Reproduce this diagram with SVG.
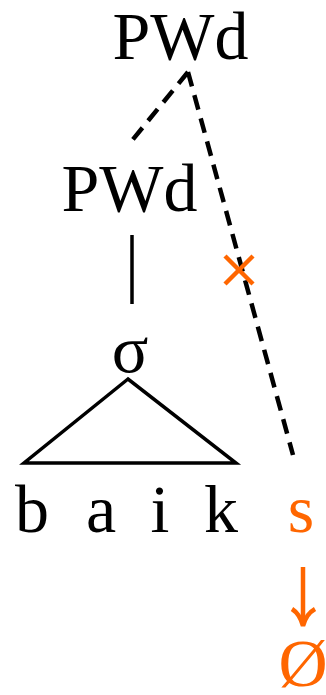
<svg xmlns="http://www.w3.org/2000/svg" width="326" height="695" viewBox="0 0 326 695">
<style>
text{font-family:"Liberation Serif","Times New Roman",serif;font-size:68px;text-anchor:middle}
.k{fill:#000}
.o{fill:#FF6600}
.dash{stroke:#000;stroke-width:4.5;fill:none;stroke-dasharray:15 9}
.solid{stroke:#000;stroke-width:3.5;fill:none}
.orl{stroke:#FF6600;stroke-width:4.5;fill:none;stroke-linecap:butt}
</style>
<rect width="326" height="695" fill="#fff"/>
<g id="connectors">
<path class="dash" d="M188,72 L130,143"/>
<path class="dash" d="M188,72 L293,455"/>
<line class="solid" x1="132" y1="235" x2="132" y2="304"/>
<path class="solid" d="M128,379 L24,463 L236,463 Z" stroke-width="5" stroke-linejoin="miter"/>
<g id="cross">
<line class="orl" x1="225" y1="256" x2="253" y2="284"/>
<line class="orl" x1="253" y1="256" x2="225" y2="284"/>
</g>
<g id="arrow">
<line class="orl" x1="303" y1="567" x2="303" y2="622" stroke-width="2.8"/>
<path d="M292,609 Q300,614 303,626 Q306,614 315,609" class="orl" stroke-width="2.8"/>
</g>
</g>
<g id="pwd-top"><text class="k" x="180.5" y="59">PWd</text></g>
<g id="pwd-mid"><text class="k" x="129.5" y="211">PWd</text></g>
<g id="sigma"><text class="k" x="130" y="372">σ</text></g>
<g id="seg-b"><text class="k" x="32" y="532">b</text></g>
<g id="seg-a"><text class="k" x="101" y="532">a</text></g>
<g id="seg-i"><text class="k" x="160" y="532">i</text></g>
<g id="seg-k"><text class="k" x="221" y="532">k</text></g>
<g id="seg-s"><text class="o" x="301" y="532">s</text></g>
<g id="null"><text class="o" x="303" y="686" font-size="62">Ø</text></g>
</svg>
